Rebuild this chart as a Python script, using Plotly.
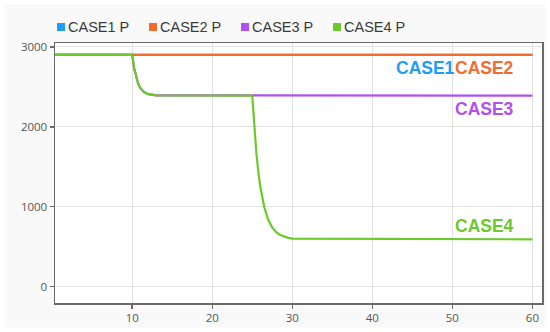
import plotly.graph_objects as go

# ---- data ----
series_names = ["CASE1 P", "CASE2 P", "CASE3 P", "CASE4 P"]
series_colors = ["#1f9cf3", "#f36c2e", "#b14ff0", "#6cc92b"]

case1_x = [0.35, 60]
case1_y = [2900, 2900]

case2_x = [0.35, 60]
case2_y = [2900, 2900]

case3_x = [0.35, 10.0, 10.25, 10.5, 10.75, 11.0, 11.5, 12.0, 12.5, 13.0, 60]
case3_y = [2900, 2900, 2726, 2612, 2536, 2486, 2432, 2408, 2398, 2392, 2390]

case4_x = [0.35, 10.0, 10.25, 10.5, 10.75, 11.0, 11.5, 12.0, 12.5, 13.0,
           25.0, 25.25, 25.5, 25.75, 26.0, 26.5, 27.0, 27.5, 28.0, 28.5,
           29.0, 29.5, 30.0, 60]
case4_y = [2900, 2900, 2726, 2612, 2536, 2486, 2432, 2408, 2398, 2392,
           2390, 1992, 1682, 1440, 1252, 992, 834, 738, 680, 645,
           623, 610, 600, 592]

label_texts = ["CASE1", "CASE2", "CASE3", "CASE4"]
label_x = [50.3, 50.3, 50.3, 50.3]
label_y = [2740, 2740, 2225, 760]
label_anchor = ["right", "left", "left", "left"]

x_ticks = [10, 20, 30, 40, 50, 60]
y_ticks = [0, 1000, 2000, 3000]

xs = [case1_x, case2_x, case3_x, case4_x]
ys = [case1_y, case2_y, case3_y, case4_y]

W, H = 550, 332
ML, MR, MT, MB = 55, 8, 43, 29
PW, PH = W - ML - MR, H - MT - MB


def px_to_paper_x(px):
    return (px - ML) / PW


def py_to_paper_y(py):
    return (H - MB - py) / PH


fig = go.Figure()
for name, color, x, y in zip(series_names, series_colors, xs, ys):
    fig.add_trace(go.Scatter(x=x, y=y, mode="lines", name=name,
                             line=dict(color=color, width=2.2),
                             showlegend=False, hoverinfo="skip"))

# white outer frame around the light-grey card
fig.add_shape(type="rect", xref="paper", yref="paper",
              x0=px_to_paper_x(0), x1=px_to_paper_x(W),
              y0=py_to_paper_y(H), y1=py_to_paper_y(0),
              line=dict(color="#ffffff", width=9), fillcolor="rgba(0,0,0,0)",
              layer="below")

# legend drawn as swatch + text at the top
legend_sq_px = [57, 149, 241, 333]
legend_cy = 27
for name, color, sx in zip(series_names, series_colors, legend_sq_px):
    fig.add_shape(type="rect", xref="paper", yref="paper",
                  x0=px_to_paper_x(sx), x1=px_to_paper_x(sx + 8),
                  y0=py_to_paper_y(legend_cy + 4), y1=py_to_paper_y(legend_cy - 4),
                  fillcolor=color, line=dict(width=0))
    fig.add_annotation(xref="paper", yref="paper",
                       x=px_to_paper_x(sx + 10), y=py_to_paper_y(legend_cy),
                       text=name, showarrow=False, xanchor="left", yanchor="middle",
                       borderpad=0,
                       font=dict(family="Liberation Sans", size=14.5, color="#3a3a3a"))

for t, x, y, a, c in zip(label_texts, label_x, label_y, label_anchor, series_colors):
    fig.add_annotation(x=x, y=y, text="<b>%s</b>" % t, showarrow=False,
                       xanchor=a, yanchor="middle", borderpad=0,
                       xshift=(1 if a == "right" else -1),
                       font=dict(family="Liberation Sans", size=17.5, color=c))

axis_common = dict(showline=True, linecolor="#6a6a6a", linewidth=1.5, mirror=True,
                   showgrid=True, gridcolor="#e2e2e2", gridwidth=1,
                   ticks="outside", ticklen=4, tickcolor="#6a6a6a", tickwidth=1.5,
                   zeroline=False, automargin=False,
                   tickfont=dict(family="Open Sans", size=11.5, color="#555555"))

fig.update_xaxes(range=[0.35, 61.2], tickvals=x_ticks, **axis_common)
fig.update_yaxes(range=[-205, 3048], tickvals=y_ticks, **axis_common)

fig.update_layout(
    width=W, height=H,
    margin=dict(l=ML, r=MR, t=MT, b=MB, pad=0, autoexpand=False),
    paper_bgcolor="#f9f9f9", plot_bgcolor="#ffffff",
    showlegend=False, hovermode=False,
)

fig.write_html("out.html", config={"displayModeBar": False, "staticPlot": True},
               post_script="document.body.style.margin='0';document.body.style.overflow='hidden';")
